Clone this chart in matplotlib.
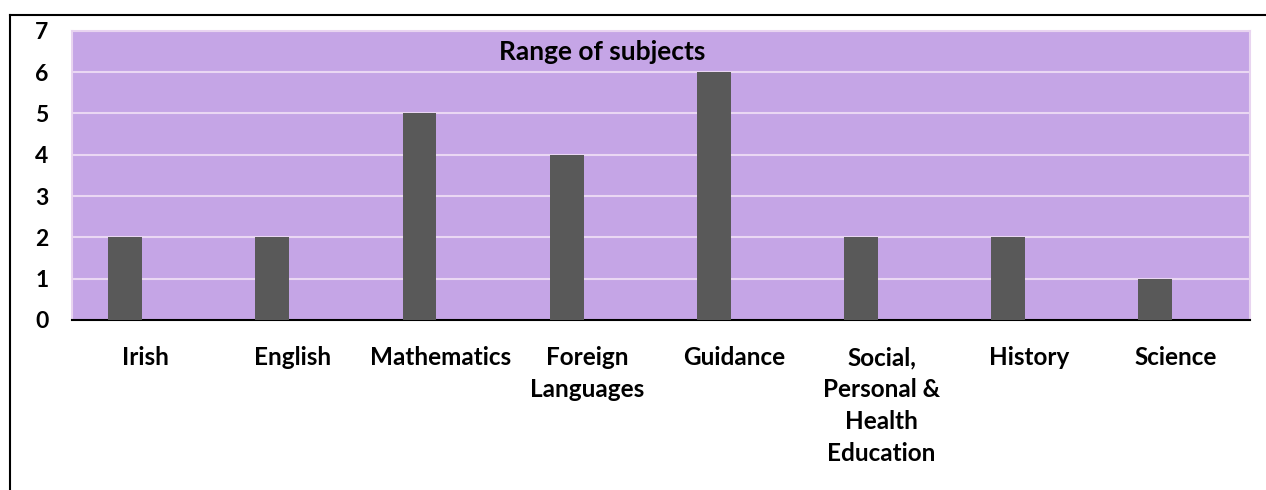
import matplotlib.pyplot as plt
import numpy as np
from matplotlib.lines import Line2D

subjects = ['Irish', 'English', 'Mathematics', 'Foreign\nLanguages', 'Guidance',
            'Social,\nPersonal &\nHealth\nEducation', 'History', 'Science']
counts = [2, 2, 5, 4, 6, 2, 2, 1]
yticks = [0, 1, 2, 3, 4, 5, 6, 7]

plt.rcParams['font.family'] = ['Lato', 'DejaVu Sans']

fig = plt.figure(figsize=(12.66, 4.9), dpi=100)
ax = fig.add_axes([0.057, 0.347, 0.930, 0.590])

x = np.arange(len(subjects))
ax.bar(x - 0.14, counts, width=0.23, color='#595959', zorder=3)

ax.set_facecolor('#C5A5E6')
ax.set_xlim(-0.5, len(subjects) - 0.5)
ax.set_ylim(0, 7)
ax.set_yticks(yticks)
ax.set_yticklabels([str(t) for t in yticks], fontsize=16.5, fontweight='bold')
ax.set_xticks(x)
ax.set_xticklabels(subjects, fontsize=17.5, fontweight='bold', linespacing=1.47,
                   va='top')
ax.tick_params(axis='both', length=0)
ax.tick_params(axis='x', pad=19)
ax.tick_params(axis='y', pad=17)
ax.yaxis.grid(True, color='#EAD7F3', linewidth=1.5, zorder=1)
ax.set_axisbelow(True)

for side in ['top', 'right', 'left']:
    ax.spines[side].set_color('#E8D4F0')
    ax.spines[side].set_linewidth(1.5)
ax.spines['bottom'].set_color('black')
ax.spines['bottom'].set_linewidth(1.5)

ax.text(0.45, 6.5 / 7, 'Range of subjects', transform=ax.transAxes,
        ha='center', va='center', fontsize=19, fontweight='bold')

# outer frame (left and top)
fig.add_artist(Line2D([10 / 1266, 10 / 1266], [0, 1 - 15 / 490], color='black', lw=1.5))
fig.add_artist(Line2D([10 / 1266, 1], [1 - 15 / 490, 1 - 15 / 490], color='black', lw=1.5))

fig.savefig('out.png', dpi=100)
